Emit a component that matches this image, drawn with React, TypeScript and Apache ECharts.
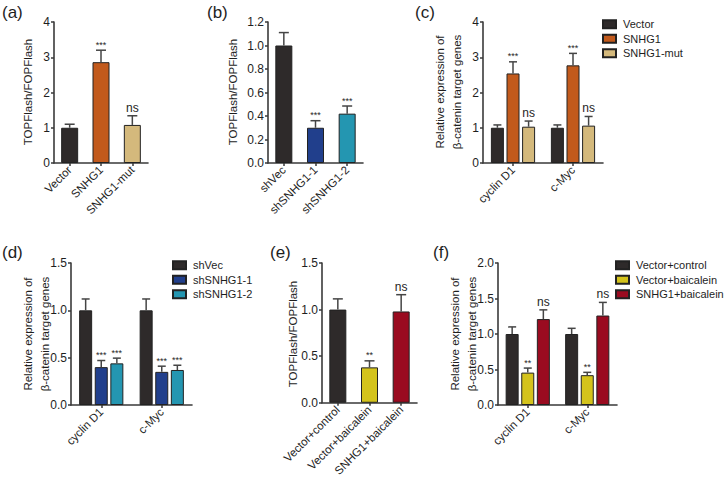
import React, { useEffect, useRef } from 'react';
import * as echarts from 'echarts';

const FONT = '"Liberation Sans", Arial, Helvetica, sans-serif';

// ---------- data ----------
// (a)
const aCategories = ['Vector', 'SNHG1', 'SNHG1-mut'];
const aValues = [1.0, 2.86, 1.08];
const aErrors = [1.1, 3.2, 1.34];
const aSig = ['', '***', 'ns'];
const aYTicks = [0, 1, 2, 3, 4];

// (b)
const bCategories = ['shVec', 'shSNHG1-1', 'shSNHG1-2'];
const bValues = [1.0, 0.3, 0.42];
const bErrors = [1.11, 0.36, 0.485];
const bSig = ['', '***', '***'];
const bYTicks = [0, 0.2, 0.4, 0.6, 0.8, 1.0, 1.2];

// (c)
const geneCategories = ['cyclin D1', 'c-Myc'];
const cSeriesNames = ['Vector', 'SNHG1', 'SNHG1-mut'];
const cValues = [[1.0, 1.0], [2.54, 2.77], [1.03, 1.06]];
const cErrors = [[1.08, 1.08], [2.87, 3.11], [1.19, 1.32]];
const cSig = [['', ''], ['***', '***'], ['ns', 'ns']];
const cYTicks = [0, 1, 2, 3, 4];

// (d)
const dSeriesNames = ['shVec', 'shSNHG1-1', 'shSNHG1-2'];
const dValues = [[1.0, 1.0], [0.4, 0.35], [0.44, 0.37]];
const dErrors = [[1.12, 1.12], [0.47, 0.41], [0.495, 0.42]];
const dSig = [['', ''], ['***', '***'], ['***', '***']];
const dYTicks = [0, 0.5, 1.0, 1.5];

// (e)
const eCategories = ['Vector+control', 'Vector+baicalein', 'SNHG1+baicalein'];
const eValues = [1.0, 0.38, 0.98];
const eErrors = [1.115, 0.45, 1.16];
const eSig = ['', '**', 'ns'];
const eYTicks = [0, 0.5, 1.0, 1.5];

// (f)
const fSeriesNames = ['Vector+control', 'Vector+baicalein', 'SNHG1+baicalein'];
const fValues = [[1.0, 1.0], [0.456, 0.42], [1.21, 1.26]];
const fErrors = [[1.1, 1.08], [0.52, 0.46], [1.34, 1.445]];
const fSig = [['', ''], ['**', '**'], ['ns', 'ns']];
const fYTicks = [0, 0.5, 1.0, 1.5, 2.0];

// ---------- styles ----------
const BLACK = '#2e2a2a';
const ORANGE = '#c25a1c';
const TAN = '#d4b97c';
const NAVY = '#213f8c';
const TEAL = '#2496b1';
const YELLOW = '#d4c31c';
const CRIMSON = '#9a0b20';
const TEXT = '#1e1e1e';
const AXIS = '#3a3a3a';
const ERR = '#454545';

const aColors = [BLACK, ORANGE, TAN];
const bColors = [BLACK, NAVY, TEAL];
const cColors = [BLACK, ORANGE, TAN];
const dColors = [BLACK, NAVY, TEAL];
const eColors = [BLACK, YELLOW, CRIMSON];
const fColors = [BLACK, YELLOW, CRIMSON];

const grids = [
  { left: 54, top: 22, width: 94, height: 141 },
  { left: 268, top: 22, width: 95, height: 141 },
  { left: 483, top: 22, width: 120, height: 141 },
  { left: 71, top: 263, width: 121, height: 142 },
  { left: 322, top: 263, width: 95, height: 142 },
  { left: 498, top: 263, width: 119, height: 142 },
];

const GROUP_BAR = 13;
const GROUP_STEP = GROUP_BAR * 1.2;

function yAxisFor(gi: number, ticks: number[], decimals: number) {
  const interval = Number((ticks[1] - ticks[0]).toFixed(4));
  return {
    type: 'value',
    gridIndex: gi,
    min: ticks[0],
    max: ticks[ticks.length - 1],
    interval,
    axisLine: { show: true, lineStyle: { color: AXIS, width: 1.6 } },
    axisTick: { show: true, length: 3, lineStyle: { color: AXIS, width: 1.5 } },
    splitLine: { show: false },
    axisLabel: {
      fontSize: 12,
      color: TEXT,
      fontFamily: FONT,
      margin: 4,
      formatter: (v: number) => v.toFixed(decimals),
    },
  };
}

function xAxisFor(gi: number, cats: string[]) {
  return {
    type: 'category',
    gridIndex: gi,
    data: cats,
    axisLine: { show: true, lineStyle: { color: AXIS, width: 1.6 } },
    axisTick: { show: true, alignWithLabel: true, length: 3, lineStyle: { color: AXIS, width: 1.5 } },
    axisLabel: { rotate: 45, interval: 0, fontSize: 11.5, color: TEXT, fontFamily: FONT, margin: 5 },
    splitLine: { show: false },
  };
}

function errorSeries(gi: number, values: number[], errors: number[], offset: number, cap: number) {
  return {
    type: 'custom',
    xAxisIndex: gi,
    yAxisIndex: gi,
    z: 5,
    clip: false,
    silent: true,
    itemStyle: { color: ERR },
    data: values.map((v, k) => [k, v, errors[k]]),
    renderItem: (params: any, api: any) => {
      const x = api.value(0);
      const v = api.value(1);
      const e = api.value(2);
      const p0 = api.coord([x, v]);
      const p1 = api.coord([x, e]);
      const cx = p0[0] + offset;
      return {
        type: 'group',
        children: [
          { type: 'line', shape: { x1: cx, y1: p0[1], x2: cx, y2: p1[1] }, style: { stroke: ERR, lineWidth: 1.5, fill: null } },
          { type: 'line', shape: { x1: cx - cap, y1: p1[1], x2: cx + cap, y2: p1[1] }, style: { stroke: ERR, lineWidth: 1.5, fill: null } },
        ],
      };
    },
  };
}

function singlePanel(gi: number, values: number[], errors: number[], colors: string[], barWidth: number) {
  return [
    {
      type: 'bar',
      xAxisIndex: gi,
      yAxisIndex: gi,
      barWidth,
      data: values.map((v, k) => ({ value: v, itemStyle: { color: colors[k] } })),
      itemStyle: { borderColor: '#222', borderWidth: 1 },
    },
    errorSeries(gi, values, errors, 0, 5),
  ];
}

function groupedPanel(gi: number, names: string[], values: number[][], errors: number[][], colors: string[]) {
  const out: any[] = [];
  names.forEach((n, j) => {
    out.push({
      type: 'bar',
      name: n,
      xAxisIndex: gi,
      yAxisIndex: gi,
      barWidth: GROUP_BAR,
      barGap: '20%',
      data: values[j],
      itemStyle: { color: colors[j], borderColor: '#222', borderWidth: 1 },
    });
  });
  names.forEach((n, j) => {
    out.push(errorSeries(gi, values[j], errors[j], (j - 1) * GROUP_STEP, 4));
  });
  return out;
}

function legendFor(names: string[], left: number, top: number) {
  return {
    orient: 'vertical',
    left,
    top,
    padding: 0,
    itemWidth: 13,
    itemHeight: 8,
    itemGap: 0,
    icon: 'rect',
    selectedMode: false,
    data: names,
    textStyle: { fontSize: 11, color: TEXT, fontFamily: FONT, lineHeight: 14.5, padding: [0, 0, 0, 2] },
  };
}

const Y2 = 'Relative expression of\nβ-catenin target genes';

function yName(text: string, x: number, y: number) {
  return {
    type: 'text',
    x,
    y,
    rotation: Math.PI / 2,
    style: {
      text,
      textAlign: 'center',
      textVerticalAlign: 'middle',
      fontSize: 11.5,
      lineHeight: 17,
      fontFamily: FONT,
      fill: TEXT,
    },
  };
}

function panelLabel(text: string, x: number, y: number) {
  return {
    type: 'text',
    x,
    y,
    style: { text, fontSize: 17, fontFamily: FONT, fill: TEXT, textVerticalAlign: 'middle' },
  };
}

// significance annotations: [gridIndex, errors per group-series, sig per group-series, offsets]
const sigPanels: { gi: number; errs: number[][]; sigs: string[][]; offsets: number[] }[] = [
  { gi: 0, errs: [aErrors], sigs: [aSig], offsets: [0] },
  { gi: 1, errs: [bErrors], sigs: [bSig], offsets: [0] },
  { gi: 2, errs: cErrors, sigs: cSig, offsets: [-GROUP_STEP, 0, GROUP_STEP] },
  { gi: 3, errs: dErrors, sigs: dSig, offsets: [-GROUP_STEP, 0, GROUP_STEP] },
  { gi: 4, errs: [eErrors], sigs: [eSig], offsets: [0] },
  { gi: 5, errs: fErrors, sigs: fSig, offsets: [-GROUP_STEP, 0, GROUP_STEP] },
];

export default function App() {
  const ref = useRef<HTMLDivElement>(null);
  useEffect(() => {
    if (!ref.current) return;
    const chart = echarts.init(ref.current, undefined, { renderer: 'svg' });
    const baseGraphic: any[] = [
      panelLabel('(a)', 2, 12),
      panelLabel('(b)', 207, 12),
      panelLabel('(c)', 415, 12),
      panelLabel('(d)', 2, 252),
      panelLabel('(e)', 270, 252),
      panelLabel('(f)', 433, 252),
      yName('TOPFlash/FOPFlash', 28, 92),
      yName('TOPFlash/FOPFlash', 233, 92),
      yName(Y2, 448.5, 92),
      yName(Y2, 36.5, 334),
      yName('TOPFlash/FOPFlash', 293, 334),
      yName(Y2, 463.5, 334),
    ];
    const option: any = {
      animation: false,
      backgroundColor: '#ffffff',
      grid: grids.map((g) => ({ ...g, containLabel: false })),
      xAxis: [
        xAxisFor(0, aCategories),
        xAxisFor(1, bCategories),
        xAxisFor(2, geneCategories),
        xAxisFor(3, geneCategories),
        xAxisFor(4, eCategories),
        xAxisFor(5, geneCategories),
      ],
      yAxis: [
        yAxisFor(0, aYTicks, 0),
        yAxisFor(1, bYTicks, 1),
        yAxisFor(2, cYTicks, 0),
        yAxisFor(3, dYTicks, 1),
        yAxisFor(4, eYTicks, 1),
        yAxisFor(5, fYTicks, 1),
      ],
      legend: [
        legendFor(cSeriesNames, 602, 17),
        legendFor(dSeriesNames, 172, 258),
        legendFor(fSeriesNames, 615, 258),
      ],
      series: [
        ...singlePanel(0, aValues, aErrors, aColors, 17),
        ...singlePanel(1, bValues, bErrors, bColors, 17),
        ...groupedPanel(2, cSeriesNames, cValues, cErrors, cColors),
        ...groupedPanel(3, dSeriesNames, dValues, dErrors, dColors),
        ...singlePanel(4, eValues, eErrors, eColors, 17),
        ...groupedPanel(5, fSeriesNames, fValues, fErrors, fColors),
      ],
      graphic: baseGraphic,
    };
    chart.setOption(option);

    const sigTexts: any[] = [];
    sigPanels.forEach((p) => {
      p.errs.forEach((arr, j) => {
        arr.forEach((e, k) => {
          const s = p.sigs[j][k];
          if (!s) return;
          const pt = chart.convertToPixel({ xAxisIndex: p.gi, yAxisIndex: p.gi } as any, [k, e]) as any;
          if (!pt) return;
          const isStar = s.indexOf('*') >= 0;
          sigTexts.push({
            type: 'text',
            x: pt[0] + p.offsets[j],
            y: pt[1] - (isStar ? 1 : 2),
            style: {
              text: s,
              textAlign: 'center',
              textVerticalAlign: 'bottom',
              fontSize: isStar ? 9 : 12,
              fontFamily: FONT,
              fill: TEXT,
            },
          });
        });
      });
    });
    chart.setOption({ graphic: [...baseGraphic, ...sigTexts] });
    return () => chart.dispose();
  }, []);
  return <div ref={ref} style={{ position: 'absolute', left: 0, top: 0, width: 724, height: 479 }} />;
}
